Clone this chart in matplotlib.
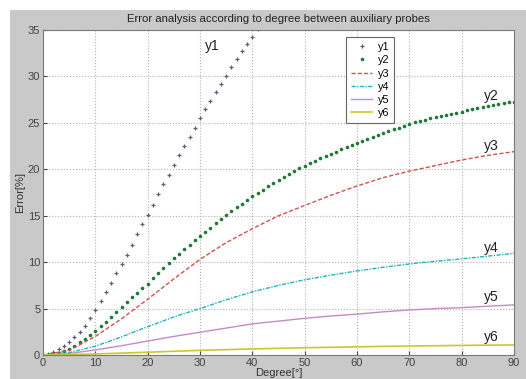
import numpy as np
import matplotlib
matplotlib.use('Agg')
from matplotlib import pyplot as plt
from matplotlib.patches import Rectangle

# data
deg_y1 = list(range(0, 42))
y1 = [0.0, 0.1, 0.3, 0.6, 0.95, 1.4, 1.9, 2.5, 3.15, 4.0,
      4.8, 5.8, 6.8, 7.8, 8.8, 9.8, 10.8, 11.9, 13.0, 14.1,
      15.1, 16.2, 17.3, 18.4, 19.4, 20.5, 21.5, 22.5, 23.5, 24.5,
      25.5, 26.5, 27.4, 28.3, 29.2, 30.1, 31.0, 31.9, 32.7, 33.5,
      34.3, 35.1]

deg_y2 = list(range(0, 91))
y2 = [0.0, 0.03, 0.1, 0.25, 0.45, 0.7, 1.0, 1.35, 1.75, 2.15,
      2.6, 3.1, 3.6, 4.1, 4.65, 5.2, 5.7, 6.2, 6.7, 7.2,
      7.7, 8.25, 8.8, 9.35, 9.9, 10.4, 10.9, 11.4, 11.9, 12.35,
      12.8, 13.25, 13.7, 14.2, 14.65, 15.1, 15.5, 15.9, 16.3, 16.7,
      17.1, 17.45, 17.8, 18.2, 18.55, 18.9, 19.2, 19.5, 19.8, 20.1,
      20.4, 20.65, 20.9, 21.2, 21.45, 21.7, 21.9, 22.15, 22.4, 22.6,
      22.8, 23.0, 23.25, 23.45, 23.7, 23.9, 24.1, 24.3, 24.5, 24.7,
      24.9, 25.05, 25.2, 25.35, 25.5, 25.6, 25.75, 25.85, 26.0, 26.1,
      26.2, 26.35, 26.45, 26.6, 26.7, 26.8, 26.9, 27.0, 27.1, 27.2,
      27.3]

deg_lines = list(range(0, 95, 5))
y3 = [0.0, 0.5, 2.0, 3.9, 6.0, 8.2, 10.3, 12.1, 13.6, 15.0,
      16.1, 17.2, 18.2, 19.1, 19.8, 20.4, 21.0, 21.5, 21.9]
y4 = [0.0, 0.25, 0.95, 1.95, 3.05, 4.1, 5.0, 5.95, 6.8, 7.5,
      8.1, 8.6, 9.05, 9.45, 9.8, 10.1, 10.35, 10.65, 10.95]
y5 = [0.0, 0.15, 0.55, 1.0, 1.5, 2.0, 2.45, 2.9, 3.35, 3.65,
      3.95, 4.2, 4.4, 4.65, 4.85, 5.0, 5.1, 5.25, 5.4]
y6 = [0.0, 0.05, 0.12, 0.2, 0.3, 0.4, 0.5, 0.58, 0.65, 0.72,
      0.78, 0.83, 0.88, 0.93, 0.97, 1.0, 1.03, 1.06, 1.08]

series_names = ['y1', 'y2', 'y3', 'y4', 'y5', 'y6']
# where the curve names sit (degree, error)
label_pos = [(31, 33.3), (84.3, 27.9), (84.3, 22.5), (84.3, 11.5), (84.3, 6.2), (84.3, 1.9)]

title = 'Error analysis according to degree between auxiliary probes'
xticks = list(range(0, 100, 10))
yticks = list(range(0, 40, 5))

plt.rcParams['font.family'] = ['Liberation Sans', 'DejaVu Sans']

# figure
fig = plt.figure(figsize=(5.26, 3.79), dpi=100)
fig.patch.set_facecolor('white')
fig.patches.append(Rectangle((10 / 526, 0), 1, 1 - 10 / 379, transform=fig.transFigure,
                             facecolor='#c9c9c9', edgecolor='none', zorder=-10))

ax = fig.add_axes([43 / 526, 24 / 379, 471 / 526, 325 / 379])
ax.set_facecolor('white')

# plot
colors = ['#5a6078', '#1f7a3a', '#d45050', '#1fb3c4', '#c58ac8', '#c9c92a']
ax.plot(deg_y1, y1, linestyle='none', marker='+', markersize=3.5, markeredgewidth=0.9,
        color=colors[0], label=series_names[0])
ax.plot(deg_y2, y2, linestyle='none', marker='o', markersize=2.6, markeredgewidth=0,
        color=colors[1], label=series_names[1])
ax.plot(deg_lines, y3, linestyle='--', dashes=(3, 1.5), linewidth=1.0, color=colors[2],
        label=series_names[2])
ax.plot(deg_lines, y4, linestyle='-.', dashes=(3, 1, 1, 1), linewidth=1.0, color=colors[3],
        label=series_names[3])
ax.plot(deg_lines, y5, linestyle='-', linewidth=1.0, color=colors[4], label=series_names[4])
ax.plot(deg_lines, y6, linestyle='-', linewidth=1.2, color=colors[5], label=series_names[5])

# curve names
for name, (xp, yp) in zip(series_names, label_pos):
    ax.text(xp, yp, name, fontsize=10, color='#222222', ha='left', va='center')

# ticks
ax.set_xlim(0, 90)
ax.set_ylim(0, 35)
ax.set_xticks(xticks)
ax.set_yticks(yticks)
ax.tick_params(direction='in', length=3, labelsize=8, colors='#444444', pad=2)
for s in ax.spines.values():
    s.set_color('#7a7a7a')
    s.set_linewidth(0.8)

# grid
ax.grid(True, linestyle=':', linewidth=0.8, color='#b0b0b0')

# labels
ax.set_xlabel('Degree[°]', fontsize=8, color='#333333', labelpad=0)
ax.set_ylabel('Error[%]', fontsize=8, color='#333333', labelpad=2)

# title
ax.set_title(title, fontsize=8.2, color='#222222', pad=6)

# legend
leg = ax.legend(loc='upper left', bbox_to_anchor=(0.643, 0.978), borderaxespad=0,
                fontsize=7.8, handlelength=2.0, handletextpad=0.5, labelspacing=0.3,
                borderpad=0.45, fancybox=False, framealpha=1, edgecolor='#666666')
leg.get_frame().set_linewidth(0.8)

fig.savefig('out.png', dpi=100)
plt.close()
